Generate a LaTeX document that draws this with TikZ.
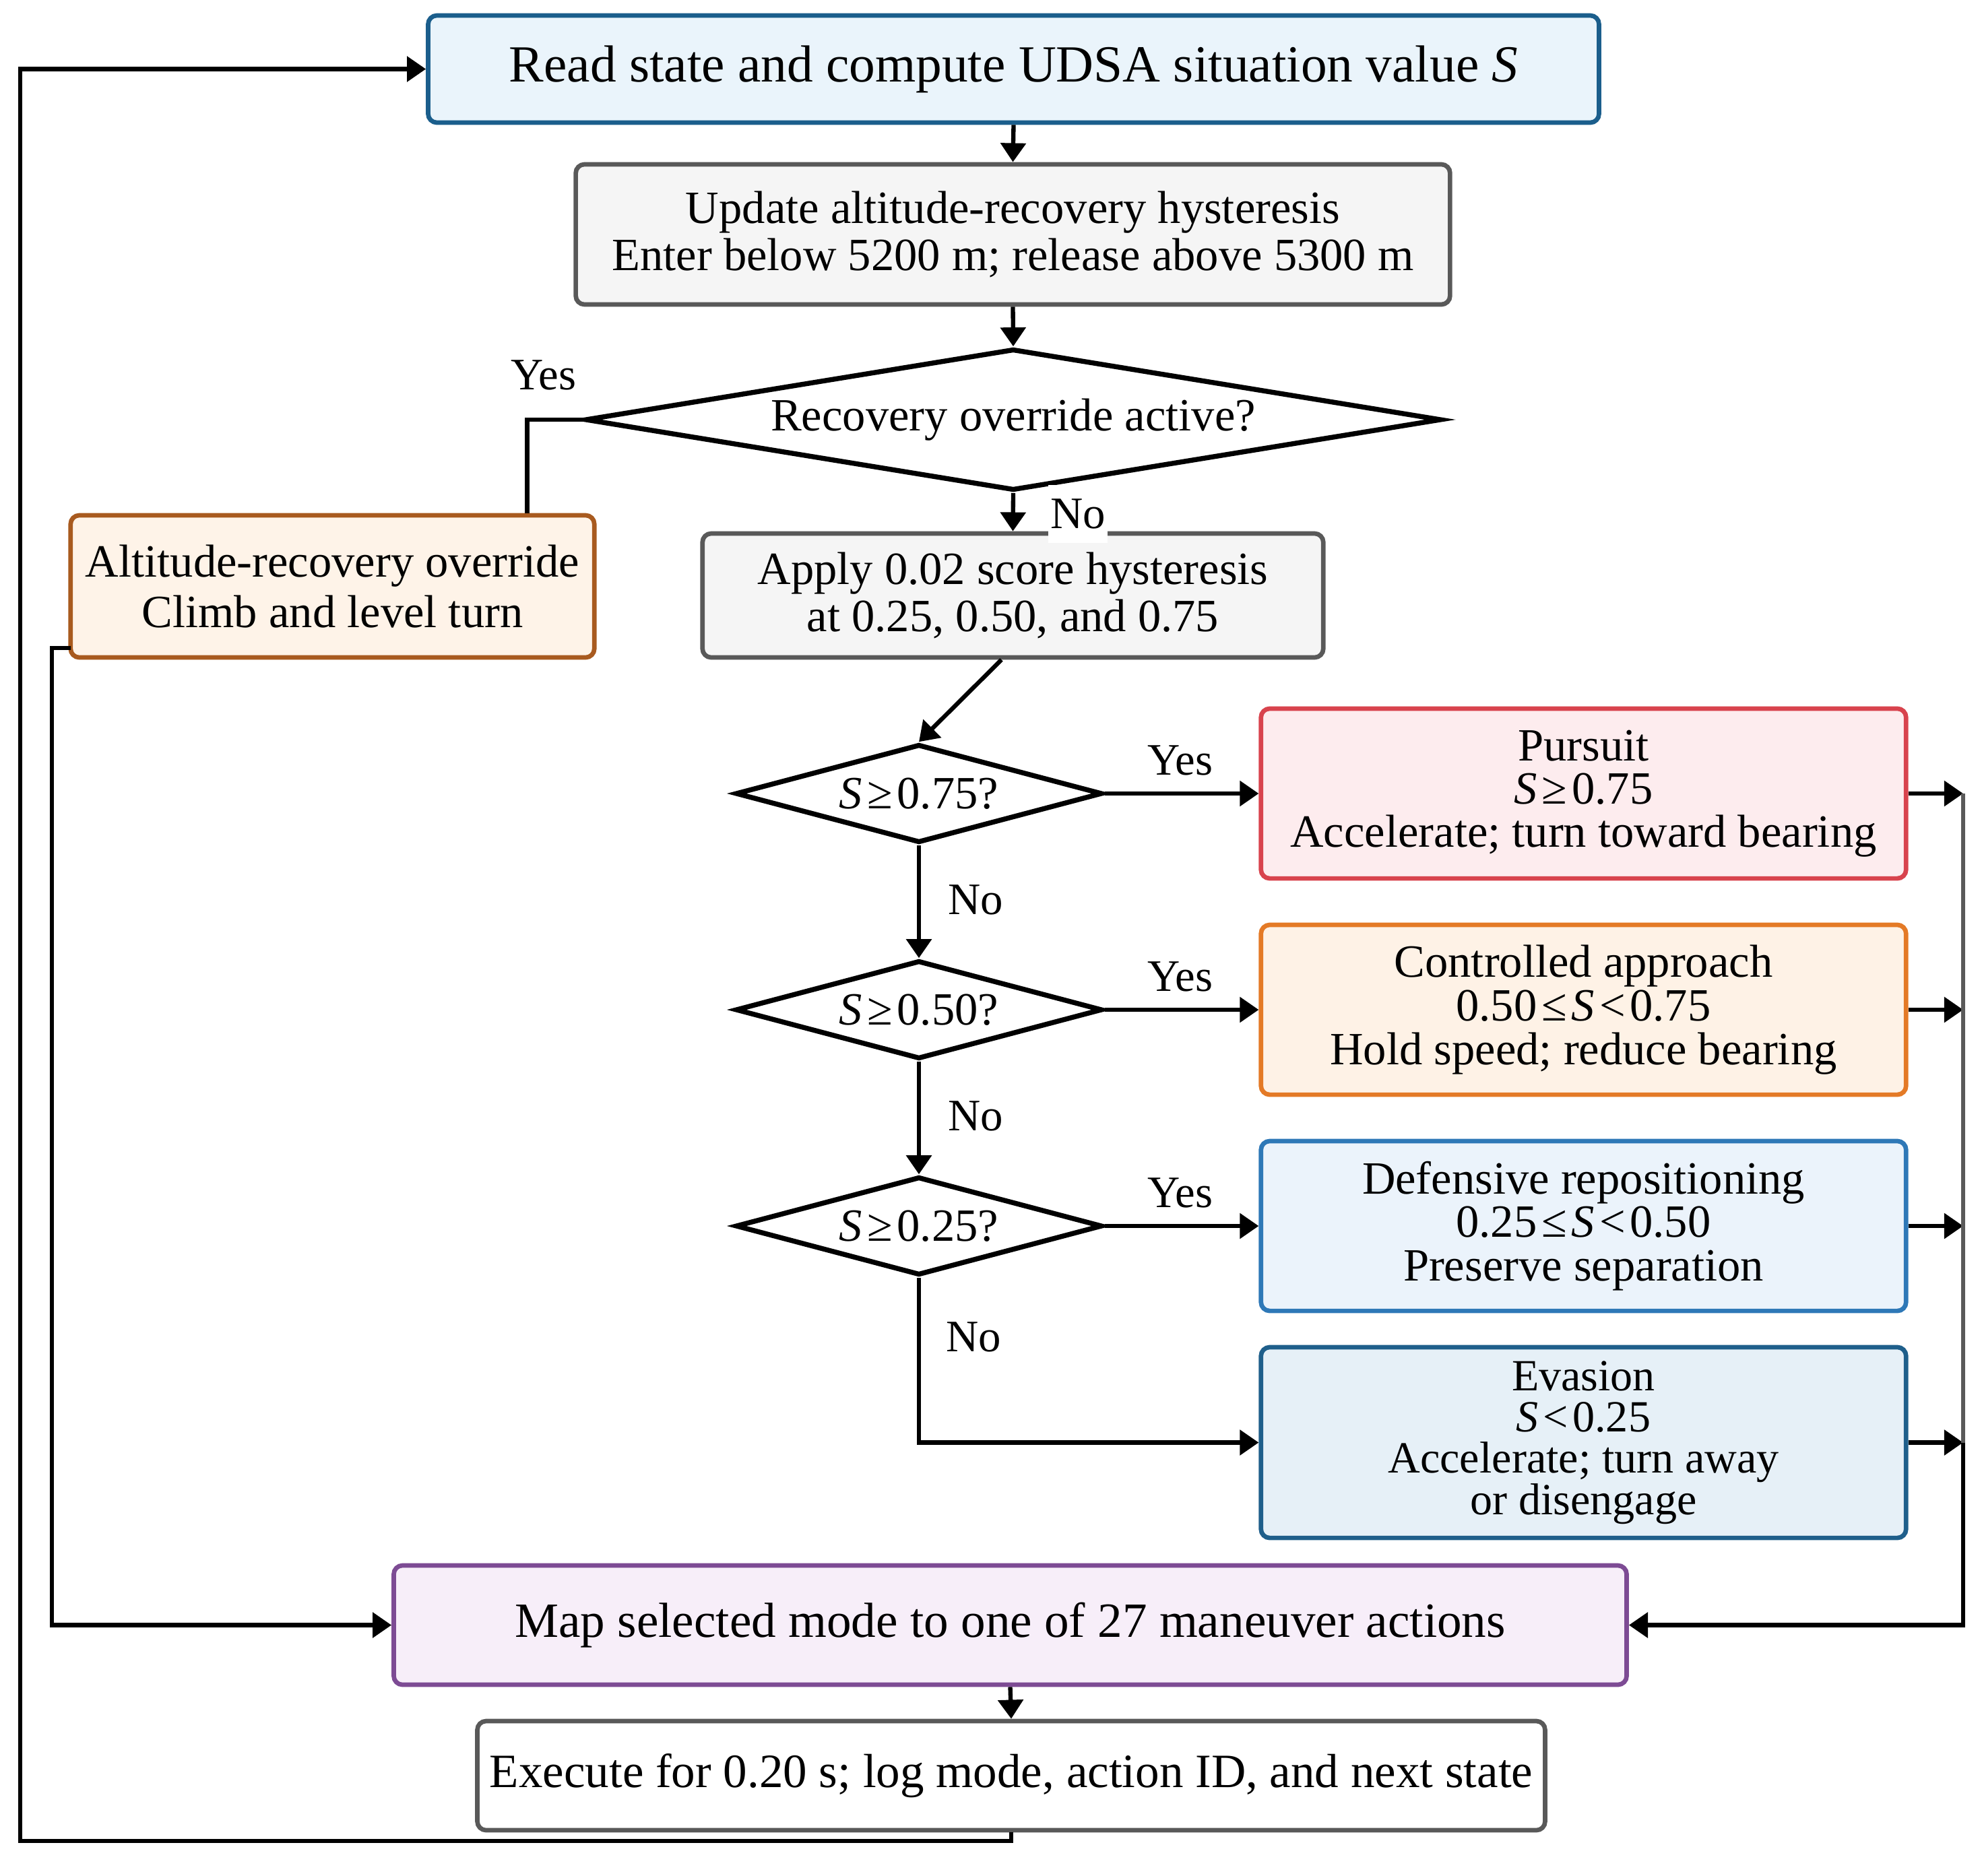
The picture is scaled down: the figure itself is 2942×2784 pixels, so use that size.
\documentclass[tikz,border=0pt]{standalone}
\usepackage{fontspec}
\setmainfont{Liberation Serif}
\usetikzlibrary{shapes.geometric,arrows.meta}
\lineskiplimit=-100pt
\definecolor{readF}{HTML}{EAF4FB}\definecolor{readB}{HTML}{1B5E8C}
\definecolor{grayF}{HTML}{F5F5F5}\definecolor{grayB}{HTML}{595959}
\definecolor{altF}{HTML}{FEF3E8}\definecolor{altB}{HTML}{A85A1F}
\definecolor{purF}{HTML}{FDECEE}\definecolor{purB}{HTML}{D8434D}
\definecolor{ctlF}{HTML}{FEF2E6}\definecolor{ctlB}{HTML}{E47A26}
\definecolor{defF}{HTML}{EBF3FB}\definecolor{defB}{HTML}{2E78B7}
\definecolor{evaF}{HTML}{E6F0F7}\definecolor{evaB}{HTML}{1F5F8B}
\definecolor{mapF}{HTML}{F7EEF9}\definecolor{mapB}{HTML}{7D4B94}
\definecolor{busG}{HTML}{5A5A5A}
\newcommand{\Sv}{{\itshape S}}
\newcommand{\rl}[1]{\hspace{0.1em}#1\hspace{0.1em}}
\begin{document}
\begin{tikzpicture}[x=0.01cm,y=-0.01cm,
  box/.style={draw, rounded corners=3.7pt, line width=1.9pt, align=center, inner sep=0pt},
  dec/.style={draw, diamond, line width=2.1pt, inner sep=0pt, fill=white,
    font=\fontsize{19.5}{22}\selectfont},
  conn/.style={line width=1.8pt, -{Triangle[length=8pt,width=10.5pt]}},
  plain/.style={line width=1.8pt},
  lbl/.style={font=\fontsize{19}{22}\selectfont, inner sep=0pt}
]
\useasboundingbox (0,0) rectangle (2942,2784);

% nodes
\node[box, draw=readB, fill=readF, minimum width=17.37cm, minimum height=1.59cm,
  font=\fontsize{22}{26}\selectfont] (read) at (1504.5,102.5)
  {Read state and compute UDSA situation value \Sv};
\node[box, draw=grayB, fill=grayF, minimum width=12.97cm, minimum height=2.08cm,
  font=\fontsize{19.5}{19.8}\selectfont] (upd) at (1503.5,348)
  {Update altitude-recovery hysteresis\\Enter below 5200 m; release above 5300 m};
\node[dec, aspect=6, minimum width=12.7cm, minimum height=2.1cm] (dia1) at (1504,623)
  {Recovery override active?};
\node[box, draw=altB, fill=altF, minimum width=7.77cm, minimum height=2.11cm,
  font=\fontsize{19.5}{21.3}\selectfont] (alt) at (493.5,870.5)
  {Altitude-recovery override\\Climb and level turn};
\node[box, draw=grayB, fill=grayF, minimum width=9.21cm, minimum height=1.84cm,
  font=\fontsize{19.5}{19.8}\selectfont] (apply) at (1503.5,884)
  {Apply 0.02 score hysteresis\\at 0.25, 0.50, and 0.75};
\node[dec, aspect=3.7, minimum width=5.44cm, minimum height=1.46cm] (d75) at (1364,1178)
  {\Sv\rl{≥}0.75?};
\node[dec, aspect=3.7, minimum width=5.44cm, minimum height=1.46cm] (d50) at (1364,1499)
  {\Sv\rl{≥}0.50?};
\node[dec, aspect=3.7, minimum width=5.44cm, minimum height=1.46cm] (d25) at (1364,1820)
  {\Sv\rl{≥}0.25?};
\node[box, draw=purB, fill=purF, minimum width=9.57cm, minimum height=2.52cm,
  font=\fontsize{19.5}{18.2}\selectfont] (pur) at (2350.5,1178)
  {Pursuit\\\Sv\rl{≥}0.75\\Accelerate; turn toward bearing};
\node[box, draw=ctlB, fill=ctlF, minimum width=9.57cm, minimum height=2.52cm,
  font=\fontsize{19.5}{18.4}\selectfont] (ctl) at (2350.5,1499)
  {Controlled approach\\0.50\rl{≤}\Sv\rl{<}0.75\\Hold speed; reduce bearing};
\node[box, draw=defB, fill=defF, minimum width=9.57cm, minimum height=2.52cm,
  font=\fontsize{19.5}{18.4}\selectfont] (def) at (2350.5,1820)
  {Defensive repositioning\\0.25\rl{≤}\Sv\rl{<}0.50\\Preserve separation};
\node[box, draw=evaB, fill=evaF, minimum width=9.57cm, minimum height=2.83cm,
  font=\fontsize{18.8}{17.4}\selectfont] (eva) at (2350.5,2141.5)
  {Evasion\\\Sv\rl{<}0.25\\Accelerate; turn away\\or disengage};
\node[box, draw=mapB, fill=mapF, minimum width=18.29cm, minimum height=1.77cm,
  font=\fontsize{20.8}{24}\selectfont] (map) at (1499.5,2412.5)
  {Map selected mode to one of 27 maneuver actions};
\node[box, draw=grayB, fill=white, minimum width=15.84cm, minimum height=1.62cm,
  font=\fontsize{20.2}{24}\selectfont] (exec) at (1501,2636)
  {Execute for 0.20 s; log mode, action ID, and next state};

% coordinates for free ends
\coordinate (altOut) at (105,962);
\coordinate (lc) at (77,2412.5);
\coordinate (loopB) at (30,2733);
\coordinate (busTop) at (2914,1178);
\coordinate (busMid) at (2914,2141.5);

% main chain
\draw[conn] (read.south) -- (upd.north);
\draw[conn] (upd.south) -- (dia1.north);
\draw[conn] (dia1.south) -- (apply.north);
\draw[plain] (dia1.west) -| ([xshift=-1.03cm]alt.north east);
\draw[conn] ([xshift=-0.17cm]apply.south) -- (d75.north);
\draw[conn] (d75.south) -- (d50.north);
\draw[conn] (d50.south) -- (d25.north);
\draw[conn] (d75.east) -- (pur.west);
\draw[conn] (d50.east) -- (ctl.west);
\draw[conn] (d25.east) -- (def.west);
\draw[conn] (d25.south) |- (eva.west);

% bus to map
\draw[conn] (pur.east) -- (busTop);
\draw[conn] (ctl.east) -- (ctl.east -| busTop);
\draw[conn] (def.east) -- (def.east -| busTop);
\draw[conn] (eva.east) -- (busMid);
\draw[plain, draw=busG] (busTop) -- (busMid);
\draw[conn] (busMid) |- (map.east);

% left connectors
\draw[conn] (altOut) -| (lc) -- (map.west);
\draw[conn] (map.south) -- (exec.north);
\draw[conn] (exec.south) |- (loopB) |- (read.west);

% labels
\node[lbl] (yes0) at (807,557) {Yes};
\node[lbl, fill=white, inner xsep=1pt, inner ysep=6pt] (no0) at (1600,763) {No};
\node[lbl] (yes1) at (1752,1129) {Yes};
\node[lbl] (yes2) at (1752,1450) {Yes};
\node[lbl] (yes3) at (1752,1771) {Yes};
\node[lbl] (no1) at (1448,1336) {No};
\node[lbl] (no2) at (1448,1657) {No};
\node[lbl] (no3) at (1445,1985) {No};
\end{tikzpicture}
\end{document}
